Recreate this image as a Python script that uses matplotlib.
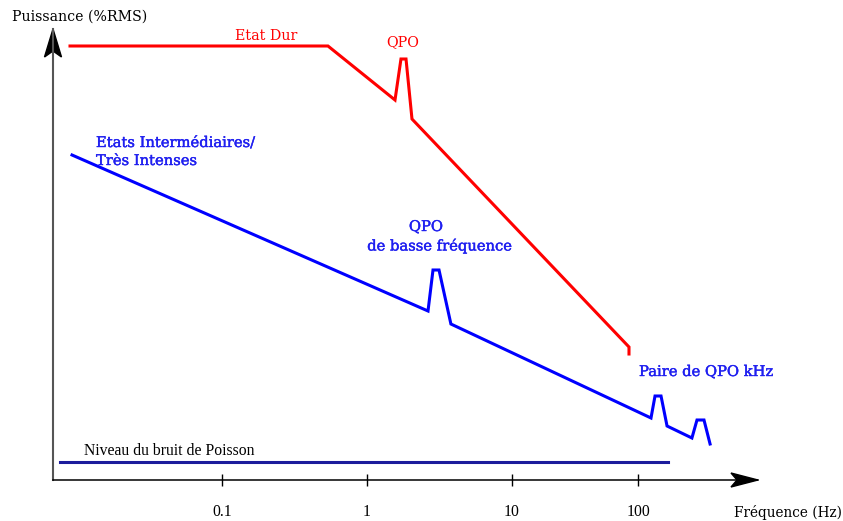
import matplotlib
matplotlib.use("Agg")
import matplotlib.pyplot as plt
import matplotlib.patheffects as pe
from matplotlib.patches import Polygon

# --- Schematic power density spectra (frequency in Hz, power in relative log units) ---
hard_freq = [0.00895, 0.538, 1.56, 1.715, 1.858, 2.043, 64.1, 64.1]
hard_power = [4.34, 4.34, 3.80, 4.21, 4.21, 3.61, 1.33, 1.26]

soft_freq = [0.00924, 2.635, 2.852, 3.138, 3.79, 90.9, 96.9, 106.6, 117.3,
             174.1, 188.7, 210.9, 232.3]
soft_power = [3.25, 1.69, 2.10, 2.10, 1.56, 0.62, 0.84, 0.84, 0.54,
              0.42, 0.60, 0.60, 0.36]

noise_freq = [0.00763, 119.0]
noise_power = [0.18, 0.18]

tick_pos = [0.1, 1, 10, 74.2]
tick_labels = ["0.1", "1", "10", "100"]

W, H = 843, 521
fig = plt.figure(figsize=(W / 100, H / 100), dpi=100)

# axes frame: origin at (53, 480) px, arrow tips at x=758 px and y=29 px
x0, y0, x1, y1 = 53, 480, 758, 29
ax = fig.add_axes([x0 / W, (H - y0) / H, (x1 - x0) / W, (y0 - y1) / H])
ax.set_xscale("log")
ax.set_xlim(10 ** ((x0 - 367) / 145), 10 ** ((x1 - 367) / 145))
ax.set_ylim(0, (y0 - y1) / 100)

for s in ("top", "right"):
    ax.spines[s].set_visible(False)
ax.spines["left"].set_color("#555555")
ax.spines["left"].set_linewidth(1.5)
ax.spines["bottom"].set_color("black")
ax.spines["bottom"].set_linewidth(1.1)

ax.set_yticks([])
ax.xaxis.set_minor_locator(matplotlib.ticker.NullLocator())
ax.set_xticks(tick_pos)
ax.set_xticklabels(tick_labels, fontfamily="Liberation Serif", fontsize=11.3)
ax.tick_params(axis="x", direction="inout", length=9, width=1.0, pad=13)

serif_ut = ["DejaVu Serif"]
serif_tm = ["Liberation Serif"]

ax.plot(hard_freq, hard_power, color="#ff0000", lw=2.2, clip_on=False,
        solid_joinstyle="miter")
ax.plot(soft_freq, soft_power, color="#0000ff", lw=2.2, clip_on=False,
        solid_joinstyle="miter")
ax.plot(noise_freq, noise_power, color="#1c1c9c", lw=2.2, clip_on=False)

# arrow heads at the ends of both axes
aw, ah = x1 - x0, y0 - y1
ax.add_patch(Polygon([(0, 1), (-8.5 / aw, 1 - 28 / ah), (0, 1 - 22 / ah),
                      (8.5 / aw, 1 - 28 / ah)], closed=True,
                     transform=ax.transAxes, color="black", clip_on=False))
ax.add_patch(Polygon([(1, 0), (1 - 27 / aw, 7 / ah), (1 - 21 / aw, 0),
                      (1 - 27 / aw, -7 / ah)], closed=True,
                     transform=ax.transAxes, color="black", clip_on=False))


def label(px, py, s, color="black", family=serif_ut, size=10, ha="left",
          heavy=False):
    t = fig.text(px / W, 1 - py / H, s, color=color, family=family,
                 fontsize=size, ha=ha, va="center")
    if heavy:
        t.set_path_effects([pe.withStroke(linewidth=0.3, foreground=color)])


label(12, 17, "Puissance (%RMS)", size=10.2)
label(734, 513, "Fréquence (Hz)", size=9.8)

red = "#ff0000"
blue = "#1f1ff0"
label(235, 36, "Etat Dur", color=red, size=10.3)
label(403, 42, "QPO", color=red, size=10.3, ha="center")

label(96, 143, "Etats Intermédiaires/", color=blue, size=10.6, heavy=True)
label(96, 161, "Très Intenses", color=blue, size=10.6, heavy=True)
label(426, 227, "QPO", color=blue, size=10.6, ha="center", heavy=True)
label(440, 246, "de basse fréquence", color=blue, size=10.6, ha="center",
      heavy=True)
label(639, 372, "Paire de QPO kHz", color=blue, size=10.6, heavy=True)

label(84, 451, "Niveau du bruit de Poisson", family=serif_tm, size=11.3)

fig.savefig("out.png", dpi=100)
